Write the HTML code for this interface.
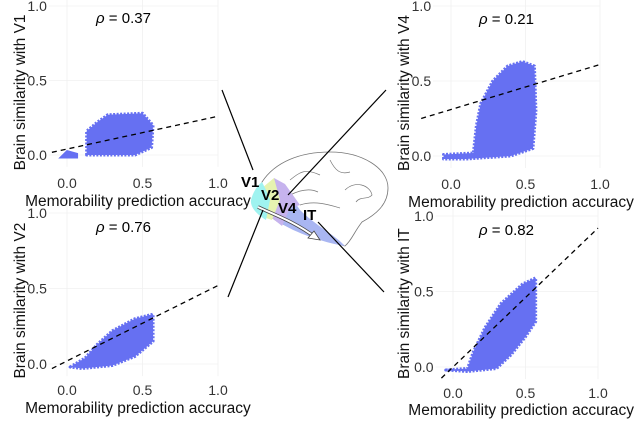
<!DOCTYPE html>
<html><head><meta charset="utf-8"><style>
html,body{margin:0;padding:0;background:#fff;}
svg{display:block;font-family:"Liberation Sans",sans-serif;}
</style></head><body>
<svg id="fig" width="640" height="422" viewBox="0 0 640 422">
<g id="brain">
  <path d="M262,182 C275,162 300,152 330,152 C362,152 388,168 388,188 C388,205 375,215 362,222 C354,232 352,240 345,246 C330,242 300,232 278,222 C265,214 255,200 262,182 Z" fill="#fff" stroke="#777" stroke-width="0.8"/>
  <path d="M290,180 C300,172 305,168 320,175 M330,160 C335,170 340,175 350,172 M345,190 C355,180 370,185 372,195 C368,200 360,196 356,202 M290,195 C300,190 310,188 318,192 M300,205 C315,200 330,205 340,208" fill="none" stroke="#777" stroke-width="0.7"/>
  <path d="M283,185 L300,210 C315,225 335,235 345,246 C330,244 300,235 282,224 L270,205 Z" fill="#a9b6f2"/>
  <path d="M274,178 L285,184 L300,205 L290,208 L282,226 L272,218 Z" fill="#c6b3ee"/>
  <path d="M262,188 L274,178 L280,200 L272,220 L266,218 Z" fill="#e6f3b0"/>
  <path d="M262,182 L266,190 L270,200 L266,220 C258,215 250,208 251,200 C253,192 257,186 262,182 Z" fill="#9ff3f0"/>
  <path d="M258,207 C275,215 295,222 315,237" fill="none" stroke="#444" stroke-width="3.5"/>
  <path d="M258,207 C275,215 295,222 315,237" fill="none" stroke="#fff" stroke-width="2"/>
  <polygon points="320,240 308,238 314,231" fill="#fff" stroke="#444" stroke-width="0.8"/>
  <text x="241" y="187" font-size="15" font-weight="bold">V1</text>
  <text x="261" y="200" font-size="15" font-weight="bold">V2</text>
  <text x="278" y="213" font-size="15" font-weight="bold">V4</text>
  <text x="303" y="220" font-size="15" font-weight="bold">IT</text>
  <line x1="222" y1="90" x2="253" y2="170" stroke="#000" stroke-width="1.2"/>
  <line x1="386" y1="90" x2="288" y2="195" stroke="#000" stroke-width="1.2"/>
  <line x1="228" y1="297" x2="263" y2="210" stroke="#000" stroke-width="1.2"/>
  <line x1="384" y1="292" x2="318" y2="222" stroke="#000" stroke-width="1.2"/>
</g>
</svg>
<script>
const panelNames=["V1","V4","V2","IT"];
const rhoValues=["0.37","0.21","0.76","0.82"];
const xTicks=[0,0.5,1.0];
const yTicks=[0,0.5,1.0];
const xTickLabels=["0.0","0.5","1.0"];
const yTickLabels=["0.0","0.5","1.0"];
const fitSlope=[0.22,0.3,0.5,0.92];
const fitIntercept=[0.04,0.31,0.02,0.0];
const fitXStart=[-0.1,-0.2,-0.1,-0.08];
const hullV1=[[0.13,0.0],[0.13,0.16],[0.2,0.22],[0.27,0.27],[0.5,0.28],[0.57,0.2],[0.56,0.05],[0.45,0.0]];
const hullV4=[[-0.05,-0.02],[-0.05,0.01],[0.15,0.02],[0.17,0.2],[0.2,0.35],[0.28,0.5],[0.38,0.6],[0.48,0.63],[0.56,0.6],[0.57,0.3],[0.55,0.05],[0.4,0.0],[0.1,-0.02]];
const hullV2=[[0.02,-0.02],[0.12,0.04],[0.2,0.13],[0.3,0.22],[0.45,0.3],[0.57,0.33],[0.57,0.15],[0.45,0.05],[0.3,-0.01],[0.1,-0.03]];
const hullIT=[[-0.05,-0.02],[0.1,-0.01],[0.14,0.1],[0.22,0.26],[0.33,0.42],[0.48,0.55],[0.57,0.59],[0.57,0.3],[0.5,0.2],[0.4,0.08],[0.3,-0.01],[0.1,-0.03]];
const smallClusterV1=[[-0.05,-0.02],[0.0,0.03],[0.07,0.01],[0.07,-0.02]];
const hulls=[hullV1,hullV4,hullV2,hullIT];
const NS="http://www.w3.org/2000/svg";
const svg=document.getElementById('fig');
const geo=[{x0:67,xs:151,y0:155,ys:149,lx:20,tk:33,tt:51},{x0:451,xs:149,y0:156,ys:150,lx:404,tk:33,tt:51},{x0:67,xs:151,y0:364,ys:151,lx:20,tk:31,tt:49},{x0:453,xs:145,y0:367,ys:151,lx:404,tk:31,tt:48}];
function mk(t,a){const e=document.createElementNS(NS,t);for(const k in a)e.setAttribute(k,a[k]);return e;}
geo.forEach((g,i)=>{
  const sx=v=>g.x0+v*g.xs, sy=v=>g.y0-v*g.ys;
  const grp=mk('g',{});
  
  
  svg.insertBefore(grp,svg.firstChild);
  xTicks.forEach((t,k)=>{
    const l=mk('line',{x1:sx(t),x2:sx(t),y1:sy(1.05),y2:sy(-0.08),stroke:'#f0f0f0','stroke-width':0.8});
    
    
    grp.appendChild(l);
    const tx=mk('text',{x:sx(t),y:g.y0+g.tk,'font-size':14,'text-anchor':'middle',fill:'#333'});
    tx.textContent=xTickLabels[k];
    
    
    grp.appendChild(tx);
  });
  yTicks.forEach((t,k)=>{
    const l=mk('line',{x1:sx(-0.12),x2:sx(1.0),y1:sy(t),y2:sy(t),stroke:'#f0f0f0','stroke-width':0.8});
    
    
    grp.appendChild(l);
    const tx=mk('text',{x:sx(-0.12)-2,y:sy(t)+5,'font-size':14,'text-anchor':'end',fill:'#333'});
    tx.textContent=yTickLabels[k];
    
    
    grp.appendChild(tx);
  });
  const hp=mk('polygon',{points:hulls[i].map(p=>sx(p[0])+','+sy(p[1])).join(' '),fill:'#6670f2',stroke:'#6670f2','stroke-width':3,'stroke-linejoin':'round','stroke-dasharray':'2,1.5'});
  
  
  grp.appendChild(hp);
  if(i===0){
    const c=mk('polygon',{points:smallClusterV1.map(p=>sx(p[0])+','+sy(p[1])).join(' '),fill:'#6670f2',stroke:'#6670f2','stroke-width':1});
    
    
    grp.appendChild(c);
  }
  const xa=fitXStart[i], xb=1.0;
  const fl=mk('line',{x1:sx(xa),y1:sy(fitIntercept[i]+fitSlope[i]*xa),x2:sx(xb),y2:sy(fitIntercept[i]+fitSlope[i]*xb),stroke:'#000','stroke-width':1.3,'stroke-dasharray':'5,4'});
  
  
  grp.appendChild(fl);
  const rt=mk('text',{x:sx(0.5)-19,y:g.y0-132,'font-size':15,'text-anchor':'middle'});
  rt.innerHTML='<tspan font-style="italic">ρ</tspan> = '+rhoValues[i];
  
  
  grp.appendChild(rt);
  const xt=mk('text',{x:sx(0.47),y:g.y0+g.tt,'font-size':15.5,'text-anchor':'middle',fill:'#111'});
  xt.textContent='Memorability prediction accuracy';
  
  
  grp.appendChild(xt);
  const yc=sy(0.42);
  const yt=mk('text',{x:0,y:0,'font-size':15.5,'text-anchor':'middle',fill:'#111',transform:'translate('+(g.lx+5)+','+yc+') rotate(-90)'});
  yt.textContent='Brain similarity with '+panelNames[i];
  
  
  grp.appendChild(yt);
});
</script>
</body></html>
